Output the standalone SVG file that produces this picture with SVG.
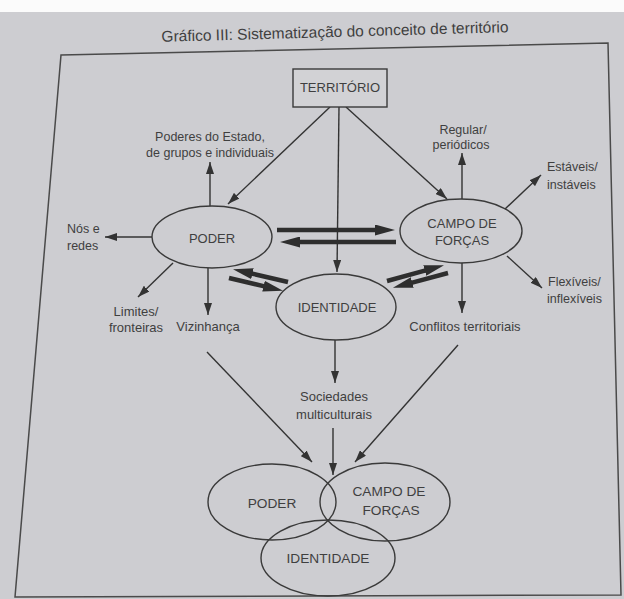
<svg xmlns="http://www.w3.org/2000/svg" width="624" height="599" viewBox="0 0 624 599">
  <defs>
    <marker id="thin" viewBox="0 0 12 8" refX="12" refY="4" markerWidth="12" markerHeight="8" markerUnits="userSpaceOnUse" orient="auto">
      <path d="M0,0 L12,4 L0,8 Z" fill="#333"/>
    </marker>
    <marker id="thick" viewBox="0 0 20 11" refX="1" refY="5.5" markerWidth="20" markerHeight="11" markerUnits="userSpaceOnUse" orient="auto">
      <path d="M0,0 L20,5.5 L0,11 Z" fill="#2e2e2e"/>
    </marker>
  </defs>
  <style>
    .t { font-family: "Liberation Sans", Arial, sans-serif; fill: #3f3f3f; text-anchor: middle; }
    .lbl { font-size: 12.5px; }
    .lbl2 { font-size: 13px; }
    .nd { font-size: 13px; }
    .vn { font-size: 13.7px; }
    .node { fill: none; stroke: #3a3a3a; stroke-width: 1.4; }
    .ln { fill: none; stroke: #333; stroke-width: 1.4; marker-end: url(#thin); }
    .tk { fill: none; stroke: #2e2e2e; stroke-width: 4.5; marker-end: url(#thick); }
  </style>

  <rect x="0" y="0" width="624" height="599" fill="#cdcdd1"/>
  <rect x="0" y="0" width="624" height="12" fill="#fbfbfb"/>

  <text class="t" x="335" y="37" font-size="15.5" transform="rotate(-1.6 335 33)">Gráfico III: Sistematização do conceito de território</text>
  <polygon points="61,55 608,43 621,595 15,597" fill="none" stroke="#4a4a4a" stroke-width="1.5"/>

  <g id="connectors">
    <line class="ln" x1="330" y1="107" x2="228" y2="204"/>
    <line class="ln" x1="339" y1="107" x2="337" y2="272"/>
    <line class="ln" x1="346" y1="107" x2="447" y2="199"/>
    <line class="ln" x1="210" y1="206" x2="210" y2="162"/>
    <line class="ln" x1="152" y1="237" x2="105" y2="237"/>
    <line class="ln" x1="173" y1="263" x2="138" y2="297"/>
    <line class="ln" x1="208" y1="268" x2="208" y2="315"/>
    <line class="ln" x1="462" y1="199" x2="462" y2="153"/>
    <line class="ln" x1="505" y1="209" x2="541" y2="175"/>
    <line class="ln" x1="507" y1="256" x2="542" y2="288"/>
    <line class="ln" x1="462" y1="263" x2="462" y2="313"/>
    <line class="ln" x1="335" y1="340" x2="335" y2="383"/>
    <line class="ln" x1="333" y1="428" x2="333" y2="475"/>
    <line class="ln" x1="207" y1="352" x2="312" y2="462"/>
    <line class="ln" x1="458" y1="345" x2="355" y2="462"/>
    <line class="tk" x1="277" y1="230" x2="376" y2="230"/>
    <line class="tk" x1="396" y1="242" x2="299" y2="242"/>
    <line class="tk" x1="288" y1="282" x2="251.5" y2="273.5"/>
    <line class="tk" x1="229" y1="278" x2="264.5" y2="286.4"/>
    <line class="tk" x1="387" y1="281" x2="425.7" y2="270.3"/>
    <line class="tk" x1="448" y1="273" x2="411.3" y2="282.8"/>
  </g>

  <g id="territorio">
    <rect x="293" y="69" width="94" height="38" fill="#d2d2d5" stroke="#3a3a3a" stroke-width="1.4"/>
    <text class="t nd" x="340" y="92">TERRITÓRIO</text>
  </g>
  <g id="poder">
    <ellipse class="node" cx="212" cy="237" rx="60" ry="31"/>
    <text class="t nd" x="212" y="243">PODER</text>
  </g>
  <g id="campo">
    <ellipse class="node" cx="461" cy="231" rx="61" ry="32"/>
    <text class="t nd" x="462" y="228">CAMPO DE</text>
    <text class="t nd" x="462" y="245">FORÇAS</text>
  </g>
  <g id="identidade">
    <ellipse class="node" cx="336" cy="307" rx="60" ry="33"/>
    <text class="t nd" x="337" y="312">IDENTIDADE</text>
  </g>

  <g id="lbl-poderes"><text class="t lbl" x="210" y="141">Poderes do Estado,</text><text class="t lbl" x="210" y="157">de grupos e individuais</text></g>
  <g id="lbl-nos"><text class="t lbl" x="67" y="233" text-anchor="start" style="text-anchor:start">Nós e</text><text class="t lbl" x="67" y="250" style="text-anchor:start">redes</text></g>
  <g id="lbl-limites"><text class="t lbl2" x="136" y="316">Limites/</text><text class="t lbl2" x="136" y="332">fronteiras</text></g>
  <g id="lbl-vizinhanca"><text class="t lbl2" x="208" y="331">Vizinhança</text></g>
  <g id="lbl-regular"><text class="t lbl" x="463" y="134">Regular/</text><text class="t lbl" x="461" y="149">periódicos</text></g>
  <g id="lbl-estaveis"><text class="t lbl" x="547" y="171" style="text-anchor:start">Estáveis/</text><text class="t lbl" x="547" y="189" style="text-anchor:start">instáveis</text></g>
  <g id="lbl-flexiveis"><text class="t lbl" x="548" y="286" style="text-anchor:start">Flexíveis/</text><text class="t lbl" x="547" y="303" style="text-anchor:start">inflexíveis</text></g>
  <g id="lbl-conflitos"><text class="t lbl2" x="465" y="331">Conflitos territoriais</text></g>
  <g id="lbl-sociedades"><text class="t lbl2" x="334" y="401">Sociedades</text><text class="t lbl2" x="334" y="419">multiculturais</text></g>

  <g id="venn-poder">
    <ellipse class="node" cx="272" cy="502" rx="64" ry="38"/>
    <text class="t vn" x="272" y="508">PODER</text>
  </g>
  <g id="venn-campo">
    <ellipse class="node" cx="385" cy="502" rx="65" ry="39"/>
    <text class="t vn" x="389" y="496">CAMPO DE</text>
    <text class="t vn" x="391" y="515">FORÇAS</text>
  </g>
  <g id="venn-identidade">
    <ellipse class="node" cx="328" cy="558" rx="67" ry="38"/>
    <text class="t vn" x="328" y="563">IDENTIDADE</text>
  </g>
</svg>
